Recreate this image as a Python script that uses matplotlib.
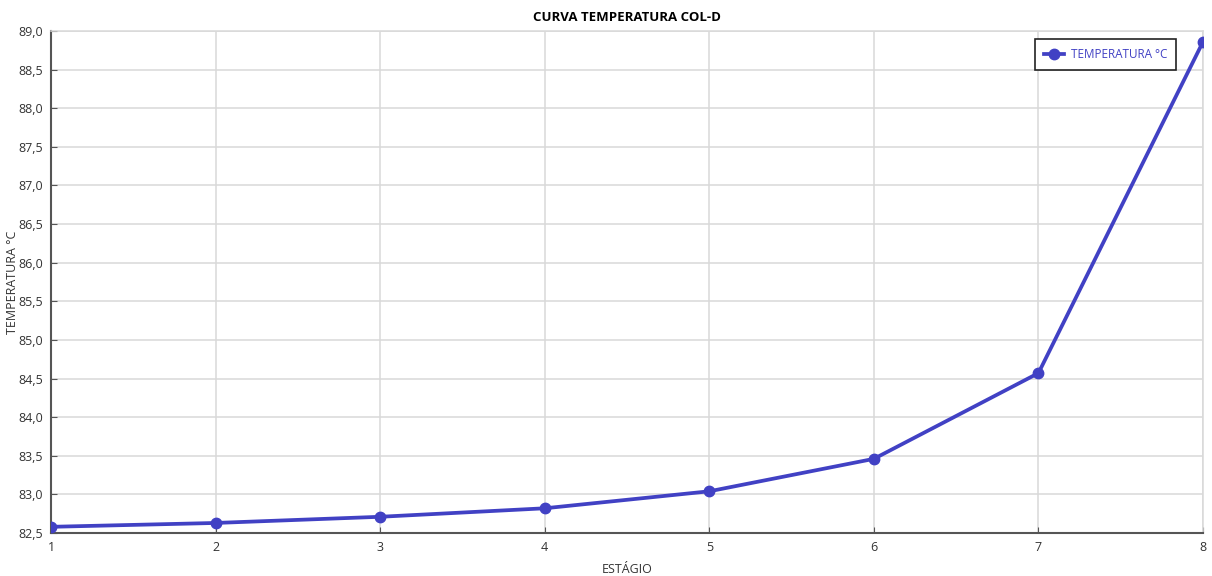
import matplotlib
matplotlib.use("Agg")
import matplotlib.pyplot as plt
import matplotlib.ticker as mticker

# ── Data ─────────────────────────────────────────────────
ESTAGIO = [1, 2, 3, 4, 5, 6, 7, 8]
TEMP    = [82.58, 82.63, 82.71, 82.82, 83.04, 83.46, 84.57, 88.86]

LINE = "#4141C4"; AXC = "#555555"; GRID = "#D9D9D9"; TEXT = "#333333"

plt.rcParams.update({"font.family": ["Open Sans", "DejaVu Sans"], "font.size": 9})

fig = plt.figure(figsize=(12.12, 5.76), dpi=100)
ax = fig.add_axes([51/1212, 1 - 533/576, 1152/1212, 502/576])

ax.plot(ESTAGIO, TEMP, "o-", color=LINE, linewidth=2.7, markersize=7.5,
        label="TEMPERATURA °C", zorder=3)

ax.set_xlim(1, 8)
ax.set_ylim(82.5, 89.0)
ax.set_xticks(ESTAGIO)
ax.yaxis.set_major_locator(mticker.MultipleLocator(0.5))
ax.yaxis.set_major_formatter(mticker.FuncFormatter(lambda v, _: f"{v:.1f}".replace(".", ",")))
ax.grid(True, color=GRID, linewidth=1.1)
ax.set_axisbelow(True)

for s in ("left", "bottom"):
    ax.spines[s].set_color(AXC); ax.spines[s].set_linewidth(1.5)
for s in ("top", "right"):
    ax.spines[s].set_color(GRID); ax.spines[s].set_linewidth(1.1)
ax.tick_params(direction="in", length=4, color=AXC, labelcolor=TEXT, pad=6)

ax.set_xlabel("ESTÁGIO", color=TEXT, labelpad=6)
ax.set_ylabel("TEMPERATURA °C", color=TEXT, labelpad=-1)
ax.set_title("CURVA TEMPERATURA COL-D", fontweight="bold", fontsize=9.5, pad=7)

leg = ax.legend(loc="upper right", bbox_to_anchor=(0.9766, 0.984), borderaxespad=0,
                fancybox=False, edgecolor="#222222", framealpha=1, handlelength=1.7,
                borderpad=0.75, handletextpad=0.6, fontsize=8.5)
leg.get_frame().set_linewidth(1.2)
for t in leg.get_texts():
    t.set_color(LINE)

fig.savefig("out.png", dpi=100)
